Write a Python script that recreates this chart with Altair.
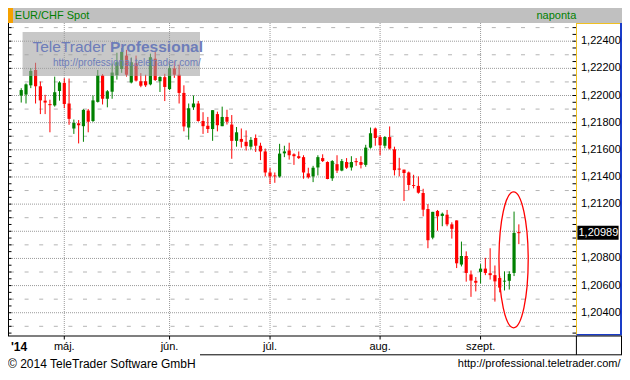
import altair as alt
import pandas as pd

# ---------------- data ----------------
opens = [1.22000, 1.22007, 1.22075, 1.22188, 1.22068, 1.21962, 1.21937, 1.21927, 1.22033, 1.22093,
         1.21941, 1.21757, 1.21795, 1.21774, 1.21889, 1.21812, 1.21953, 1.22148, 1.21976, 1.22028,
         1.22149, 1.22195, 1.22294, 1.22096, 1.22238, 1.22105, 1.22105, 1.22082, 1.22271, 1.22105,
         1.22135, 1.22047, 1.22200, 1.22153, 1.22019, 1.21764, 1.21913, 1.21941, 1.21812, 1.21777,
         1.21753, 1.21863, 1.21774, 1.21842, 1.21786, 1.21666, 1.21680, 1.21659, 1.21623, 1.21687,
         1.21630, 1.21588, 1.21433, 1.21409, 1.21404, 1.21574, 1.21595, 1.21567, 1.21553, 1.21546,
         1.21426, 1.21404, 1.21470, 1.21539, 1.21510, 1.21390, 1.21494, 1.21447, 1.21510, 1.21470,
         1.21517, 1.21510, 1.21489, 1.21616, 1.21757, 1.21694, 1.21630, 1.21694, 1.21604, 1.21461,
         1.21454, 1.21433, 1.21341, 1.21334, 1.21282, 1.21164, 1.20953, 1.21150, 1.21113, 1.21122,
         1.21051, 1.21080, 1.20755, 1.20818, 1.20682, 1.20635, 1.20701, 1.20725, 1.20691, 1.20677,
         1.20656, 1.20631, 1.20635, 1.20693, 1.20995]
highs = [1.22054, 1.22089, 1.22202, 1.22241, 1.22103, 1.22005, 1.21969, 1.22139, 1.22105, 1.22128,
         1.22125, 1.21823, 1.21819, 1.21899, 1.21901, 1.22000, 1.22188, 1.22158, 1.22040, 1.22235,
         1.22315, 1.22350, 1.22336, 1.22280, 1.22294, 1.22165, 1.22153, 1.22308, 1.22322, 1.22141,
         1.22160, 1.22235, 1.22252, 1.22228, 1.22075, 1.21941, 1.22000, 1.21960, 1.21877, 1.21842,
         1.21892, 1.21881, 1.21918, 1.21895, 1.21856, 1.21768, 1.21757, 1.21743, 1.21694, 1.21713,
         1.21652, 1.21609, 1.21466, 1.21433, 1.21644, 1.21630, 1.21652, 1.21574, 1.21588, 1.21560,
         1.21468, 1.21482, 1.21560, 1.21567, 1.21515, 1.21524, 1.21560, 1.21532, 1.21539, 1.21553,
         1.21539, 1.21553, 1.21637, 1.21764, 1.21764, 1.21708, 1.21701, 1.21772, 1.21623, 1.21541,
         1.21454, 1.21440, 1.21416, 1.21404, 1.21313, 1.21200, 1.21143, 1.21157, 1.21138, 1.21157,
         1.21066, 1.21080, 1.20924, 1.20852, 1.20711, 1.20663, 1.20758, 1.20804, 1.20875, 1.20748,
         1.20670, 1.20705, 1.20705, 1.21145, 1.21051]
lows = [1.21948, 1.21941, 1.22054, 1.21941, 1.21863, 1.21863, 1.21729, 1.21918, 1.21962, 1.21906,
        1.21784, 1.21717, 1.21647, 1.21659, 1.21729, 1.21805, 1.21948, 1.21934, 1.21913, 1.21976,
        1.22117, 1.22167, 1.22139, 1.22089, 1.22103, 1.22061, 1.22063, 1.22075, 1.22107, 1.22026,
        1.21959, 1.22040, 1.22130, 1.21941, 1.21736, 1.21675, 1.21894, 1.21807, 1.21717, 1.21724,
        1.21666, 1.21736, 1.21774, 1.21786, 1.21534, 1.21623, 1.21616, 1.21595, 1.21602, 1.21584,
        1.21524, 1.21404, 1.21348, 1.21357, 1.21395, 1.21546, 1.21528, 1.21489, 1.21532, 1.21387,
        1.21388, 1.21362, 1.21411, 1.21510, 1.21383, 1.21371, 1.21429, 1.21442, 1.21459, 1.21447,
        1.21482, 1.21463, 1.21475, 1.21609, 1.21630, 1.21560, 1.21611, 1.21602, 1.21411, 1.21404,
        1.21223, 1.21301, 1.21316, 1.21277, 1.21110, 1.20875, 1.20941, 1.21004, 1.21037, 1.21037,
        1.20946, 1.20729, 1.20741, 1.20629, 1.20517, 1.20557, 1.20616, 1.20677, 1.20644, 1.20482,
        1.20550, 1.20564, 1.20571, 1.20670, 1.20905]
closes = [1.22040, 1.22082, 1.22181, 1.22068, 1.21964, 1.21948, 1.21932, 1.22024, 1.22096, 1.21937,
          1.21828, 1.21798, 1.21781, 1.21894, 1.21807, 1.21964, 1.22148, 1.21976, 1.22031, 1.22169,
          1.22245, 1.22322, 1.22153, 1.22245, 1.22110, 1.22072, 1.22075, 1.22282, 1.22114, 1.22137,
          1.22063, 1.22202, 1.22153, 1.22019, 1.21772, 1.21906, 1.21941, 1.21812, 1.21774, 1.21753,
          1.21892, 1.21781, 1.21842, 1.21807, 1.21666, 1.21729, 1.21659, 1.21627, 1.21673, 1.21630,
          1.21588, 1.21433, 1.21404, 1.21407, 1.21572, 1.21588, 1.21560, 1.21553, 1.21539, 1.21433,
          1.21397, 1.21468, 1.21546, 1.21517, 1.21385, 1.21517, 1.21447, 1.21517, 1.21468, 1.21510,
          1.21512, 1.21489, 1.21616, 1.21722, 1.21687, 1.21634, 1.21694, 1.21609, 1.21450, 1.21457,
          1.21429, 1.21341, 1.21337, 1.21284, 1.21159, 1.20934, 1.21143, 1.21110, 1.21129, 1.21051,
          1.21018, 1.20764, 1.20818, 1.20693, 1.20637, 1.20621, 1.20725, 1.20693, 1.20677, 1.20631,
          1.20585, 1.20633, 1.20686, 1.20988, 1.20989]

month_idx = [9, 31, 52, 75, 96]
month_names = ["máj.", "jún.", "júl.", "aug.", "szept."]
label_vals = [1.224, 1.222, 1.220, 1.218, 1.216, 1.214, 1.212, 1.208, 1.206, 1.204]
major_grid = [1.224, 1.222, 1.220, 1.218, 1.216, 1.214, 1.212, 1.210, 1.208, 1.206, 1.204]
minor_grid = [1.225, 1.223, 1.221, 1.219, 1.217, 1.215, 1.213, 1.211, 1.209, 1.207, 1.205, 1.203]
edge_ticks = [round(1.2025 + 0.0005 * k, 4) for k in range(46)]
ellipse_x = [102.9]
ellipse_y = [1.2079]

# ---------------- layout ----------------
W, H = 566, 312
FONT = "Liberation Sans"
ONE = pd.DataFrame({"k": [0]})
xs = alt.Scale(domain=[-1.3, 114.9], nice=False, zero=False)
ys = alt.Scale(domain=[1.20236, 1.22534], nice=False, zero=False)
X = alt.X("i:Q", scale=xs, axis=None)


def rect(x, x2, y, y2, **kw):
    return alt.Chart(ONE).mark_rect(**kw).encode(
        x=alt.value(x), x2=alt.value(x2), y=alt.value(y), y2=alt.value(y2))


def rule(x, x2, y, y2, color, w=1):
    return alt.Chart(ONE).mark_rule(color=color, strokeWidth=w).encode(
        x=alt.value(x), x2=alt.value(x2), y=alt.value(y), y2=alt.value(y2))


def text(s, x, y, size, color="black", align="left", weight="normal"):
    return alt.Chart(ONE).mark_text(align=align, baseline="middle", fontSize=size, color=color,
                                    fontWeight=weight, font=FONT).encode(
        x=alt.value(x), y=alt.value(y), text=alt.value(s))


df = pd.DataFrame({"i": list(range(len(opens))), "o": opens, "h": highs, "l": lows, "c": closes})
df["dir"] = ["up" if c >= o else "down" for o, c in zip(opens, closes)]
color = alt.Color("dir:N", scale=alt.Scale(domain=["up", "down"], range=["#008000", "#ff0000"]), legend=None)

fmt = lambda v: f"{v:.5f}".replace(".", ",")

layers = []
# plot background
layers.append(rect(0, W, 0, H, color="white"))
# grid
layers.append(alt.Chart(pd.DataFrame({"p": minor_grid})).mark_rule(color="#b4b4b4", strokeDash=[4, 10.6]).encode(
    y=alt.Y("p:Q", scale=ys, axis=None), x=alt.value(0), x2=alt.value(W)))
layers.append(alt.Chart(pd.DataFrame({"p": major_grid})).mark_rule(color="#9a9a9a", strokeDash=[1, 1]).encode(
    y=alt.Y("p:Q", scale=ys, axis=None), x=alt.value(0), x2=alt.value(W)))
layers.append(alt.Chart(pd.DataFrame({"i": month_idx})).mark_rule(color="#9a9a9a", strokeDash=[1, 1]).encode(
    x=X, y=alt.value(0), y2=alt.value(H)))
# candles
layers.append(alt.Chart(df).mark_rule(strokeWidth=1).encode(
    x=X, y=alt.Y("l:Q", scale=ys, axis=None), y2="h:Q", color=color))
layers.append(alt.Chart(df).mark_bar(size=3.2).encode(
    x=X, y=alt.Y("o:Q", scale=ys, axis=None), y2="c:Q", color=color))
layers.append(alt.Chart(df).transform_filter("abs(datum.o - datum.c) < 0.00008").mark_tick(
    orient="horizontal", size=3.2, thickness=1).encode(x=X, y=alt.Y("c:Q", scale=ys, axis=None), color=color))
# watermark
layers.append(rect(12.6, 190, 9, 53, color="#a0a0a0", opacity=0.58))
layers.append(text("TeleTrader", 22.5, 23.5, 15.5, color="#6e7db9"))
layers.append(text("Professional", 100, 23.5, 15.5, color="#6e7db9", weight="bold"))
layers.append(text("http://professional.teletrader.com/", 43, 39.6, 10, color="#6e7db9"))
# ellipse annotation
ell = ("M 0 -1 C 0.1187 -1 0.215 -0.5523 0.215 0 C 0.215 0.5523 0.1187 1 0 1 "
       "C -0.1187 1 -0.215 0.5523 -0.215 0 C -0.215 -0.5523 -0.1187 -1 0 -1 Z")
layers.append(alt.Chart(pd.DataFrame({"i": ellipse_x, "p": ellipse_y})).mark_point(
    shape=ell, filled=False, color="#ff0000", strokeWidth=1.3, size=18496, opacity=1).encode(
    x=X, y=alt.Y("p:Q", scale=ys, axis=None)))
# title bar
layers.append(rect(-2, 612, -15, 0, color="#c0c0c0"))
layers.append(rect(-2, 3, -15, 0, color="#f5a100"))
layers.append(text("EUR/CHF Spot", 4.8, -7.3, 11, color="#008000"))
layers.append(text("naponta", 526.5, -7.3, 11, color="#008000"))
# right panel
layers.append(rect(566.4, 612, 0, 312, color="white"))
layers.append(rule(566.5, 566.5, 0, 312, "#f0c020", 1))
layers.append(rule(566.5, 611, 0.5, 0.5, "#f0c020", 1))
layers.append(rule(611, 611, 0, 312, "#1a3cc8", 2))
layers.append(rule(566.5, 612, 311.8, 311.8, "#1a3cc8", 1.5))
# edge ticks
layers.append(alt.Chart(pd.DataFrame({"p": edge_ticks})).mark_rule(color="black").encode(
    y=alt.Y("p:Q", scale=ys, axis=None), x=alt.value(562.5), x2=alt.value(566)))
layers.append(alt.Chart(pd.DataFrame({"p": edge_ticks})).mark_rule(color="black").encode(
    y=alt.Y("p:Q", scale=ys, axis=None), x=alt.value(-2), x2=alt.value(1.5)))
layers.append(rule(-1.5, -1.5, 0, 313, "black", 1))
# price labels
layers.append(alt.Chart(pd.DataFrame({"p": label_vals, "t": [fmt(v) for v in label_vals]})).mark_text(
    align="left", baseline="middle", fontSize=11, font=FONT, color="black").encode(
    y=alt.Y("p:Q", scale=ys, axis=None), x=alt.value(571), text="t:N"))
last = pd.DataFrame({"c": [closes[-1]], "t": [fmt(closes[-1])]})
layers.append(alt.Chart(last).mark_rect(color="black", yOffset=-7, y2Offset=7).encode(
    y=alt.Y("c:Q", scale=ys, axis=None), y2="c:Q", x=alt.value(567.4), x2=alt.value(608.6)))
layers.append(alt.Chart(last).mark_text(align="left", baseline="middle", fontSize=11, font=FONT,
                                        color="white").encode(
    y=alt.Y("c:Q", scale=ys, axis=None), x=alt.value(568.5), text="t:N"))
# bottom band
layers.append(rule(-2, 612, 313, 313, "black", 1.2))
layers.append(rule(566.4, 566.4, 313, 331.8, "black", 1))
layers.append(rule(611.5, 611.5, 313, 331.8, "black", 1))
layers.append(rule(190, 612, 331.8, 331.8, "black", 1))
months = pd.DataFrame({"i": month_idx, "name": month_names})
layers.append(alt.Chart(months).mark_rule(color="black").encode(x=X, y=alt.value(313), y2=alt.value(316.5)))
layers.append(alt.Chart(months).mark_text(align="center", baseline="middle", fontSize=11, font=FONT,
                                          color="black").encode(x=X, y=alt.value(324), text="name:N"))
layers.append(text("'14", 1, 324, 12, weight="bold"))
# footer
layers.append(text("© 2014 TeleTrader Software GmbH", -2, 340.5, 12))
layers.append(text("http://professional.teletrader.com/", 610.5, 340.5, 11, align="right"))

chart = alt.layer(*layers).properties(
    width=W, height=H,
    padding={"left": 2, "top": 15, "right": 46, "bottom": 37},
    autosize=alt.AutoSizeParams(type="none"),
    background="white",
).configure_view(strokeWidth=0)

chart.save("out.html", embed_options={"renderer": "svg", "actions": False})
